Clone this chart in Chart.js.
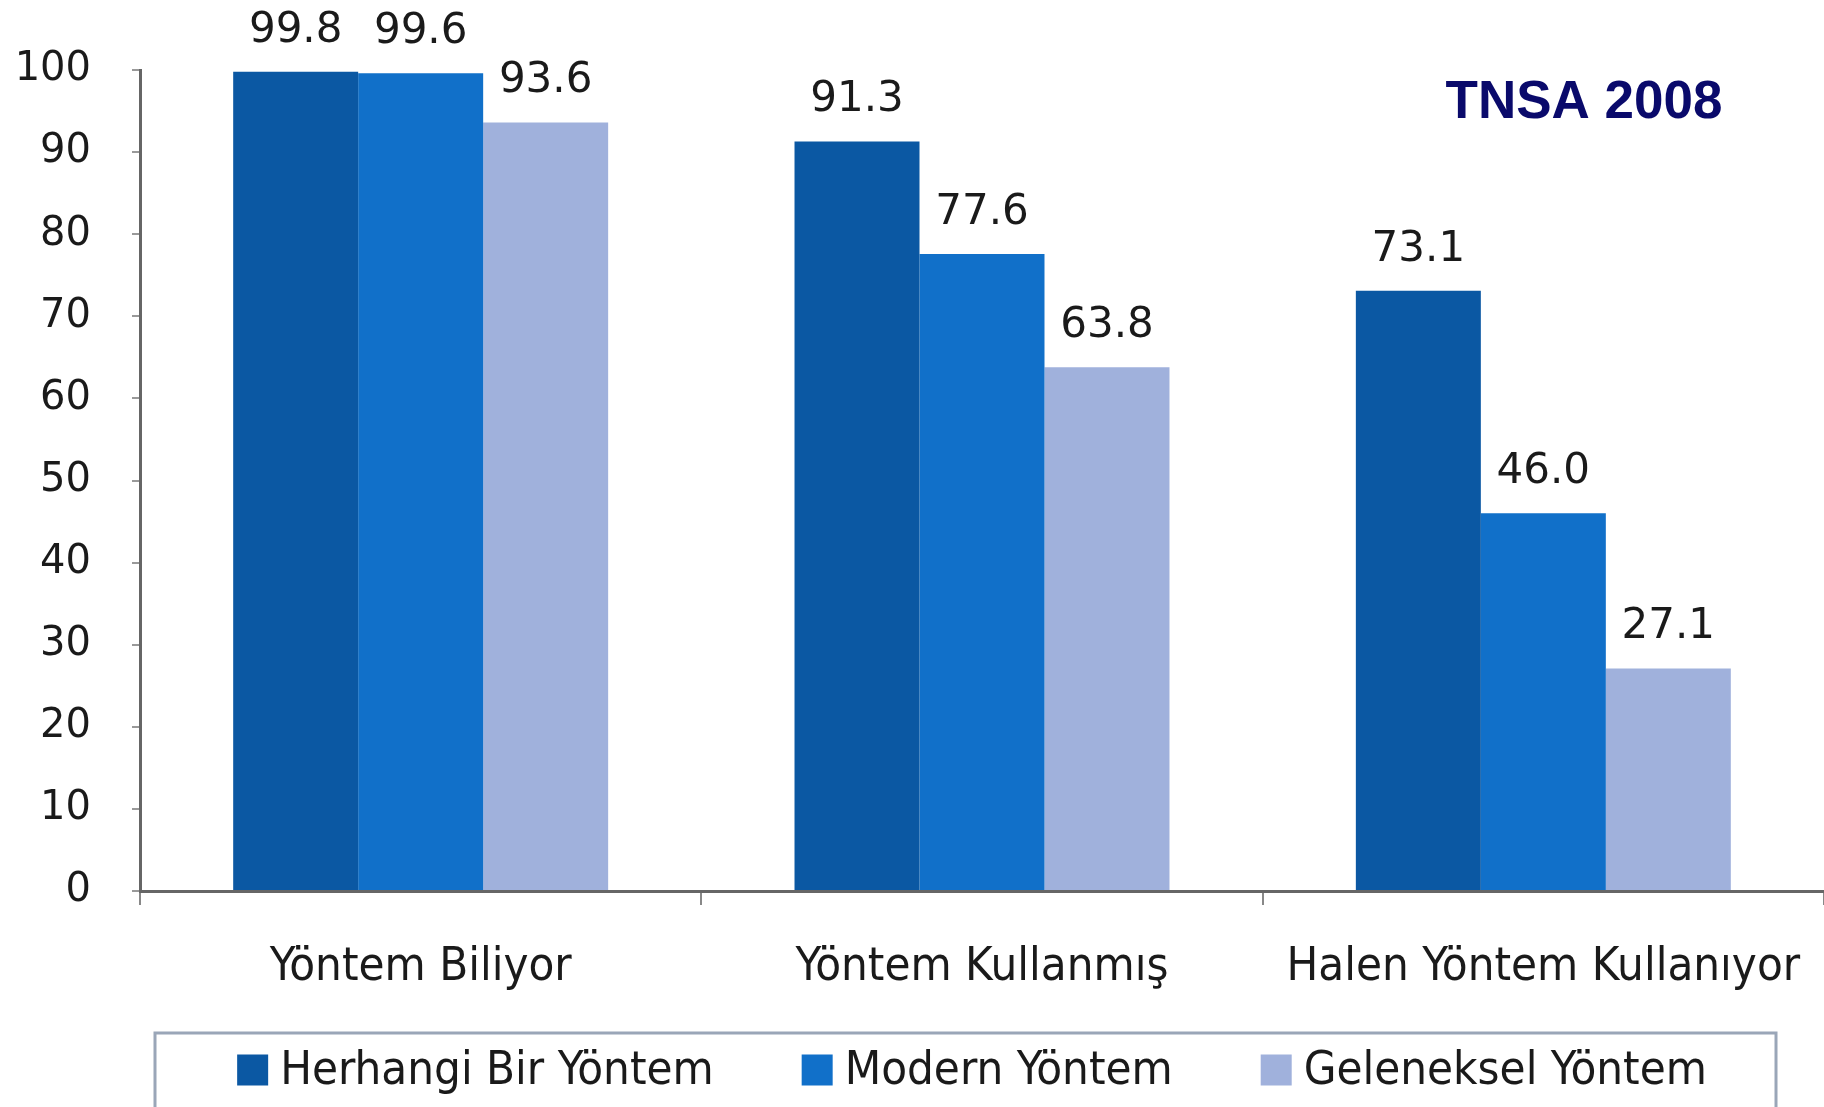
<!DOCTYPE html>
<html>
<head>
<meta charset="utf-8">
<script src="https://cdn.jsdelivr.net/npm/chart.js@4"></script>
<style>
  html, body { margin: 0; padding: 0; background: #fff; }
  #wrap { width: 1824px; height: 1107px; }
</style>
</head>
<body>
<div id="wrap"><canvas id="chart" width="1824" height="1107"></canvas></div>
<script>
// data
const categories = ['Yöntem Biliyor', 'Yöntem Kullanmış', 'Halen Yöntem Kullanıyor'];
const seriesNames = ['Herhangi Bir Yöntem', 'Modern Yöntem', 'Geleneksel Yöntem'];
const anyMethod = [99.8, 91.3, 73.1];
const modernMethod = [99.6, 77.6, 46.0];
const traditionalMethod = [93.6, 63.8, 27.1];
const yTicks = [0, 10, 20, 30, 40, 50, 60, 70, 80, 90, 100];
const colors = ['#0b58a3', '#1170c9', '#a0b1dc'];
const badge = 'TNSA 2008';

const labelFont = '"DejaVu Sans Condensed", "Liberation Sans Narrow", "DejaVu Sans", sans-serif';

// values above the bars
const valueLabels = {
  id: 'valueLabels',
  afterDatasetsDraw(chart) {
    const ctx = chart.ctx;
    ctx.save();
    ctx.font = '42px "DejaVu Sans", sans-serif';
    ctx.fillStyle = '#1a1a1a';
    ctx.textAlign = 'center';
    ctx.textBaseline = 'bottom';
    chart.data.datasets.forEach((ds, i) => {
      chart.getDatasetMeta(i).data.forEach((bar, j) => {
        ctx.fillText(ds.data[j].toFixed(1), bar.x, bar.y - 20);
      });
    });
    ctx.restore();
  }
};

// title badge + boxed legend
const extras = {
  id: 'extras',
  afterDraw(chart) {
    const ctx = chart.ctx;
    const area = chart.chartArea;
    ctx.save();
    ctx.font = 'bold 53px "Liberation Sans", Arial, sans-serif';
    ctx.fillStyle = '#0a0a6b';
    ctx.textAlign = 'center';
    ctx.textBaseline = 'middle';
    ctx.fillText(badge, area.right - 240, area.top + 33);

    // legend
    const box = 31, gapText = 12, gapItem = 88;
    ctx.font = '47px ' + labelFont;
    const items = chart.data.datasets.map(ds => ({
      text: ds.label, color: ds.backgroundColor, w: ctx.measureText(ds.label).width
    }));
    let total = 0;
    items.forEach((it, k) => { total += box + gapText + it.w + (k ? gapItem : 0); });
    const cy = 1070;
    let x = 972 - total / 2;
    ctx.strokeStyle = '#9aa6b8';
    ctx.lineWidth = 3;
    ctx.strokeRect(155, 1033, 1621, 100);
    ctx.textAlign = 'left';
    items.forEach(it => {
      ctx.fillStyle = it.color;
      ctx.fillRect(x, cy - box / 2, box, box);
      ctx.fillStyle = '#1a1a1a';
      ctx.fillText(it.text, x + box + gapText, cy + 2);
      x += box + gapText + it.w + gapItem;
    });
    ctx.restore();
  }
};

new Chart(document.getElementById('chart'), {
  type: 'bar',
  data: {
    labels: categories,
    datasets: [
      { label: seriesNames[0], data: anyMethod, backgroundColor: colors[0] },
      { label: seriesNames[1], data: modernMethod, backgroundColor: colors[1] },
      { label: seriesNames[2], data: traditionalMethod, backgroundColor: colors[2] }
    ]
  },
  options: {
    responsive: false,
    animation: false,
    layout: { padding: { top: 70, right: 0, bottom: 0, left: 0 } },
    datasets: { bar: { categoryPercentage: 0.668, barPercentage: 1.0 } },
    plugins: {
      legend: { display: false },
      tooltip: { enabled: false }
    },
    scales: {
      x: {
        afterFit(scale) {
          scale.height = 216;
          scale.paddingRight = 0;
          scale.paddingLeft = 0;
        },
        border: { display: true, color: '#666', width: 3 },
        grid: { display: true, drawOnChartArea: false, drawTicks: true, tickLength: 14, color: '#888', lineWidth: 2 },
        ticks: { color: '#1a1a1a', padding: 35, font: { size: 47, family: labelFont } }
      },
      y: {
        min: 0,
        max: 100,
        afterFit(scale) { scale.width = 140; },
        afterBuildTicks(scale) { scale.ticks = yTicks.map(v => ({ value: v })); },
        border: { display: true, color: '#666', width: 3 },
        grid: { display: true, drawOnChartArea: false, drawTicks: true, tickLength: 8, color: '#999', lineWidth: 2 },
        ticks: { color: '#1a1a1a', padding: 41, font: { size: 40, family: '"DejaVu Sans", sans-serif' } }
      }
    }
  },
  plugins: [valueLabels, extras]
});
</script>
</body>
</html>
